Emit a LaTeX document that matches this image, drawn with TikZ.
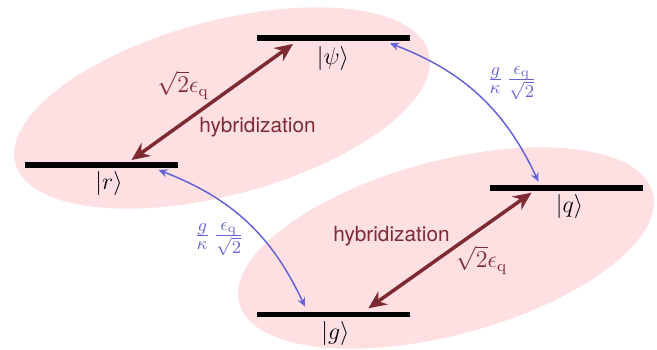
\documentclass[tikz,border=0pt]{standalone}
\usepackage{fontspec}
\usepackage{xcolor}
\usetikzlibrary{arrows.meta}
\newfontfamily\helv{TeX Gyre Heros}
\newcommand{\FK}{\fontsize{11.5}{14}\selectfont}
\newcommand{\FC}{\fontsize{12.5}{15}\selectfont}
\newcommand{\FH}{\fontsize{10.4}{12}\selectfont\helv}
\definecolor{rosa}{RGB}{254,223,226}
\definecolor{vino}{RGB}{125,42,50}
\definecolor{azul}{RGB}{100,100,215}

\begin{document}
\begin{tikzpicture}[x=0.5pt,y=0.5pt]
\tikzstyle{nivel}=[draw=none,fill=black,minimum width=76.5pt,minimum height=2.75pt,inner sep=0pt]
\tikzstyle{ket}=[draw=none,fill=none,black,font=\FK,inner sep=0pt]
\tikzstyle{texto}=[draw=none,fill=none,vino,font=\FH,inner sep=0pt]
\tikzstyle{acopla}=[draw=none,fill=none,azul,font=\FC,inner sep=0pt]
\tikzstyle{hib}=[vino,line width=1.75pt,{Stealth[length=9pt,width=8pt]}-{Stealth[length=9pt,width=8pt]}]
\tikzstyle{salto}=[azul,line width=0.75pt,{Stealth[length=4.5pt,width=4pt]}-{Stealth[length=4.5pt,width=4pt]}]

\useasboundingbox (0,0) rectangle (657,349);

% pares hibridizados
\fill[rosa] (222,241) ellipse [x radius=107pt,y radius=43.5pt,rotate=15];
\fill[rosa] (446,101) ellipse [x radius=107pt,y radius=43.5pt,rotate=15];

% niveles
\node[nivel] (psi) at (333,311)   {};
\node[nivel] (r)   at (101.5,184) {};
\node[nivel] (q)   at (566.5,161) {};
\node[nivel] (g)   at (333,34.5)  {};

\node[ket] (psilab) at (333,290.5)   {$|\psi\rangle$};
\node[ket] (rlab)   at (109,165.5)   {$|r\rangle$};
\node[ket] (qlab)   at (569.5,143)   {$|q\rangle$};
\node[ket] (glab)   at (335.5,15.5)  {$|g\rangle$};

% hibridizacion
\draw[hib] ([shift={(-40,-6)}]psi.center) -- ([shift={(30,5)}]r.center);
\draw[hib] ([shift={(-35,-4.7)}]q.center) -- ([shift={(35.3,6.2)}]g.center);

\node[texto] (h1) at (257.5,221.5) {hybridization};
\node[texto] (h2) at (391.5,113)   {hybridization};
\node[texto,font=\FK] (e1) at (183,264)  {$\sqrt{2}\epsilon_{\mathrm{q}}$};
\node[texto,font=\FK] (e2) at (481.5,89) {$\sqrt{2}\epsilon_{\mathrm{q}}$};

% acoplamiento a la cavidad
\draw[salto] ([shift={(57,-5.3)}]psi.center) to[bend left=22] ([shift={(-28,6.3)}]q.center);
\draw[salto] ([shift={(57,-5)}]r.center) to[bend left=22] ([shift={(-28,7.8)}]g.center);

\node[acopla] (k1) at (512,266) {$\frac{g}{\kappa}\,\frac{\epsilon_{\mathrm{q}}}{\sqrt{2}}$};
\node[acopla] (k2) at (219,110) {$\frac{g}{\kappa}\,\frac{\epsilon_{\mathrm{q}}}{\sqrt{2}}$};
\end{tikzpicture}
\end{document}
